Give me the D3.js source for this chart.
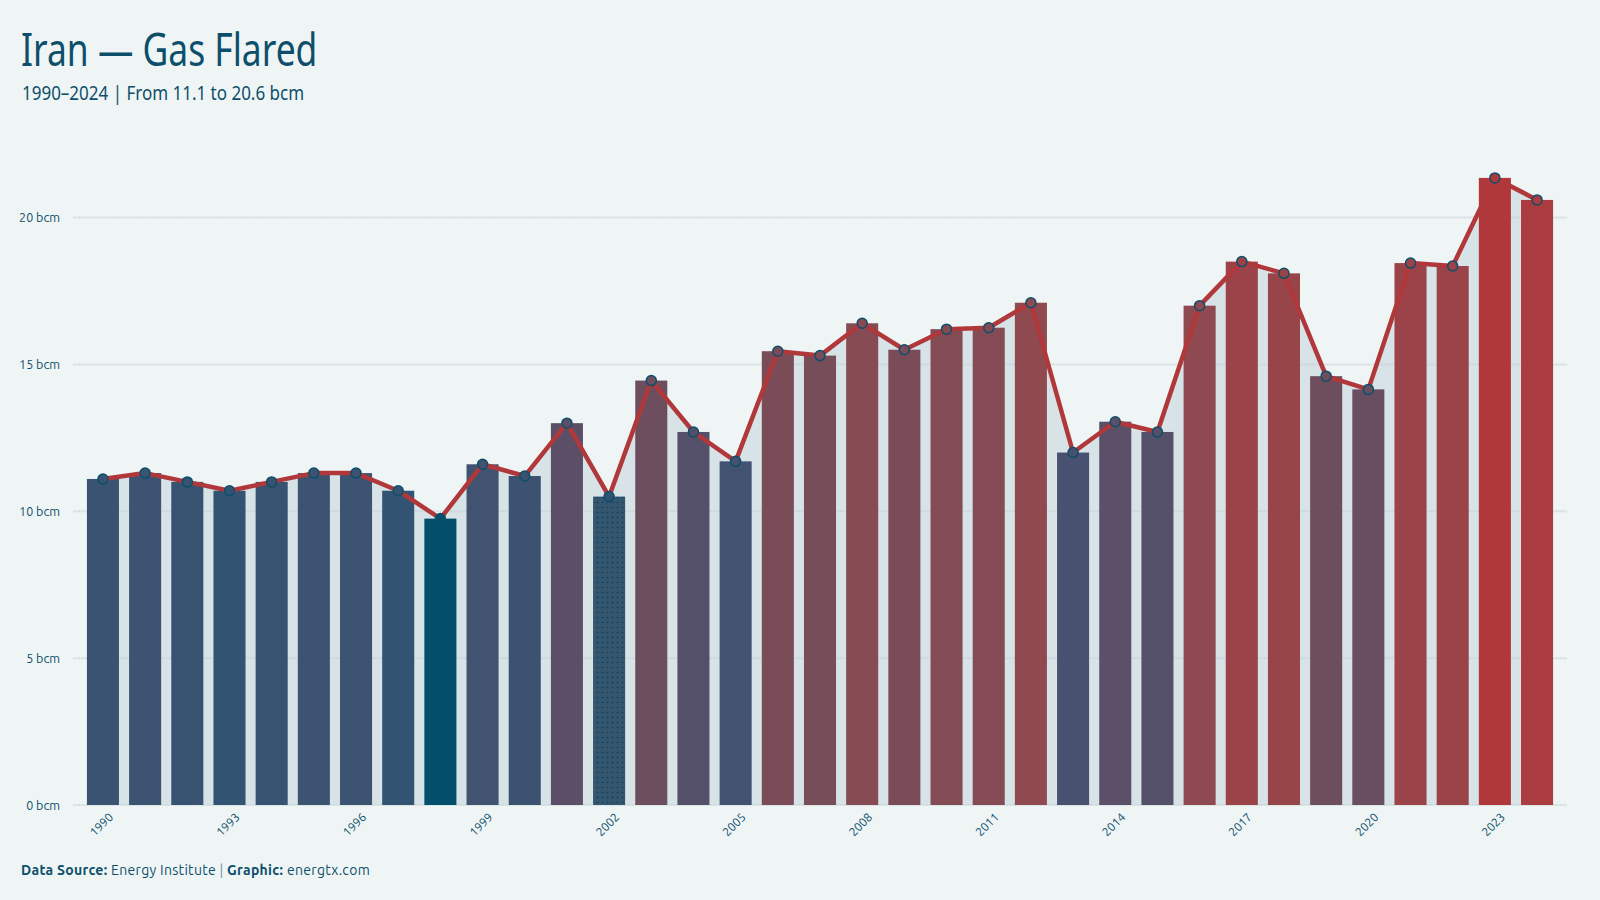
<!DOCTYPE html>
<html>
<head>
<meta charset="utf-8">
<script src="https://cdn.jsdelivr.net/npm/d3@7"></script>
<style>
  html, body { margin: 0; padding: 0; background: #eff5f5; }
  svg { display: block; }
  .title { font-family: "Ubuntu Condensed", "Noto Sans", sans-serif; }
  .axis text { font-family: "Ubuntu", "Noto Sans", sans-serif; fill: #0d4f6b; }
</style>
</head>
<body>
<div id="chart"></div>
<script>
// data
var years = [1990, 1991, 1992, 1993, 1994, 1995, 1996, 1997, 1998, 1999,
             2000, 2001, 2002, 2003, 2004, 2005, 2006, 2007, 2008, 2009,
             2010, 2011, 2012, 2013, 2014, 2015, 2016, 2017, 2018, 2019,
             2020, 2021, 2022, 2023, 2024]
var flared = [11.1, 11.3, 11.0, 10.7, 11.0, 11.3, 11.3, 10.7, 9.75, 11.6,
              11.2, 13.0, 10.5, 14.45, 12.7, 11.7, 15.45, 15.3, 16.4, 15.5,
              16.2, 16.25, 17.1, 12.0, 13.05, 12.7, 17.0, 18.5, 18.1, 14.6,
              14.15, 18.45, 18.35, 21.35, 20.6]
var yTicks = [0, 5, 10, 15, 20]
var xTickYears = [1990, 1993, 1996, 1999, 2002, 2005, 2008, 2011, 2014, 2017, 2020, 2023]
var dottedYears = [2002]

// colour ramp (value -> colour)
var colorStops = [10.5, 12, 13, 14.4, 17, 18.5, 21.4]
var colorRange = ["#2f5472", "#485270", "#5b4f68", "#6b4e5e", "#8e4a50", "#9b4348", "#b0383a"]
var minColor = "#034f6b"

var data = years.map(function(y, i) { return { year: y, value: flared[i] } })

var width = 1600,
    height = 900
var margin = { top: 150, right: 33, bottom: 95, left: 73 }

var svg = d3.select("#chart").append("svg")
    .attr("width", width)
    .attr("height", height)

svg.append("rect")
    .attr("width", width)
    .attr("height", height)
    .attr("fill", "#eff5f5")

var x = d3.scaleBand()
    .domain(years)
    .range([margin.left, width - margin.right])
    .paddingInner(0.24)
    .paddingOuter(0.33)

var y = d3.scaleLinear()
    .domain([0, 22.3])
    .range([height - margin.bottom, margin.top])

var color = d3.scaleLinear()
    .domain(colorStops)
    .range(colorRange)
    .clamp(true)

var minVal = d3.min(flared)
function barColor(d) {
    return d.value === minVal ? minColor : color(d.value)
}

// dotted pattern
var defs = svg.append("defs")
var pat = defs.append("pattern")
    .attr("id", "dots")
    .attr("width", 5)
    .attr("height", 5)
    .attr("patternUnits", "userSpaceOnUse")
pat.append("rect").attr("width", 5).attr("height", 5).attr("fill", "#35566f")
pat.append("circle").attr("cx", 2.5).attr("cy", 2.5).attr("r", 0.8).attr("fill", "#063f58")

var cx = function(d) { return x(d.year) + x.bandwidth() / 2 }

// area under the line
var area = d3.area()
    .x(cx)
    .y0(y(0))
    .y1(function(d) { return y(d.value) })

svg.append("path")
    .datum(data)
    .attr("d", area)
    .attr("fill", "#d7e3e7")

// grid
svg.append("g")
    .selectAll("line")
    .data(yTicks)
    .enter()
    .append("line")
    .attr("x1", margin.left)
    .attr("x2", width - margin.right)
    .attr("y1", function(d) { return y(d) })
    .attr("y2", function(d) { return y(d) })
    .attr("stroke", "#c3d2d6")
    .attr("stroke-opacity", 0.6)
    .attr("stroke-width", 2)
    .attr("stroke-dasharray", "2,0.6")

// bars
svg.append("g")
    .selectAll("rect")
    .data(data)
    .enter()
    .append("rect")
    .attr("x", function(d) { return x(d.year) })
    .attr("width", x.bandwidth())
    .attr("y", function(d) { return y(d.value) })
    .attr("height", function(d) { return y(0) - y(d.value) })
    .attr("fill", function(d) {
        return dottedYears.indexOf(d.year) >= 0 ? "url(#dots)" : barColor(d)
    })

// line
var line = d3.line()
    .x(cx)
    .y(function(d) { return y(d.value) })

svg.append("path")
    .datum(data)
    .attr("d", line)
    .attr("fill", "none")
    .attr("stroke", "#b0383a")
    .attr("stroke-width", 4.5)
    .attr("stroke-linejoin", "round")

svg.append("g")
    .selectAll("circle")
    .data(data)
    .enter()
    .append("circle")
    .attr("cx", cx)
    .attr("cy", function(d) { return y(d.value) })
    .attr("r", 5)
    .attr("fill", function(d) { return barColor(d) })
    .attr("stroke", "#0d4f6b")
    .attr("stroke-width", 1.5)

// axes
var yAxis = svg.append("g")
    .attr("class", "axis")
    .attr("transform", "translate(" + (margin.left - 10) + ",0)")
    .call(d3.axisLeft(y).tickValues(yTicks).tickSize(0).tickFormat(function(d) { return d + " bcm" }))
yAxis.select(".domain").remove()
yAxis.selectAll("text").style("font-size", "12.5px").attr("dy", "0.32em")

var xAxis = svg.append("g")
    .attr("class", "axis")
    .attr("transform", "translate(0," + y(0) + ")")
    .call(d3.axisBottom(x).tickValues(xTickYears).tickSize(0))
xAxis.select(".domain").remove()
xAxis.selectAll("text")
    .style("font-size", "12px")
    .style("text-anchor", "end")
    .attr("transform", "translate(8,10) rotate(-45)")
    .attr("dy", "0.35em")
    .attr("y", 0)

// titles (squeezed horizontally to look like a condensed face)
svg.append("text")
    .attr("class", "title")
    .attr("transform", "translate(21,66) scale(0.77,1)")
    .style("font-size", "46px")
    .style("fill", "#0d4f6b")
    .text("Iran — Gas Flared")

svg.append("text")
    .attr("class", "title")
    .attr("transform", "translate(22,100) scale(0.85,1)")
    .style("font-size", "20px")
    .style("fill", "#0d4f6b")
    .text("1990–2024 | From 11.1 to 20.6 bcm")

var foot = svg.append("text")
    .attr("x", 21)
    .attr("y", 875)
    .style("font-family", "'Ubuntu', 'Noto Sans', sans-serif")
    .style("font-size", "14px")
    .style("letter-spacing", "0.3px")
    .style("fill", "#0d4f6b")
foot.append("tspan").style("font-weight", "bold").text("Data Source: ")
foot.append("tspan").text("Energy Institute ")
foot.append("tspan").style("fill", "#6f8fa0").text("| ")
foot.append("tspan").style("font-weight", "bold").text("Graphic: ")
foot.append("tspan").text("energtx.com")
</script>
</body>
</html>
